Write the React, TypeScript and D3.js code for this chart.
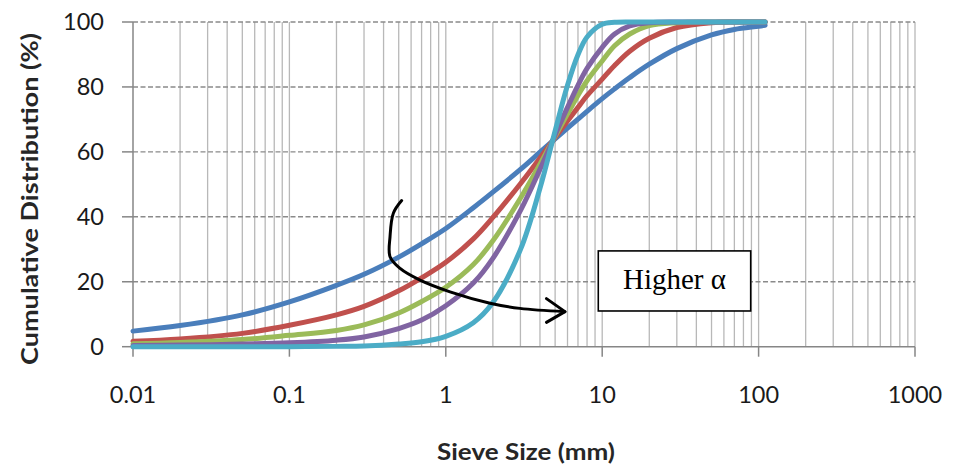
import React from "react";
import * as d3 from "d3";

// Sieve sizes (mm) at which the cumulative passing is tabulated
const sieveSizes = [0.01, 0.02, 0.05, 0.1, 0.2, 0.3, 0.5, 0.7, 1, 1.5, 2, 3, 4, 5, 6, 7, 8, 10, 12, 15, 20, 30, 50, 70, 100, 110];

// Cumulative distribution (%) for each curve, from lowest to highest alpha
const alpha1 = [4.8, 6.5, 9.8, 13.8, 18.9, 22.3, 27.6, 31.7, 36.4, 42.8, 47.6, 54.6, 59.9, 64.0, 67.3, 70.1, 72.5, 76.4, 79.4, 82.9, 87.0, 91.8, 96.0, 97.7, 98.7, 99.0];
const alpha2 = [1.7, 2.4, 4.1, 6.6, 9.8, 12.4, 17.2, 21.2, 26.0, 33.2, 39.8, 50.2, 58.1, 64.4, 69.5, 73.7, 77.3, 82.4, 86.6, 91.0, 95.0, 98.3, 99.8, 100, 100, 100];
const alpha3 = [0.9, 1.3, 2.2, 3.5, 5.0, 6.7, 10.4, 13.9, 18.3, 25.3, 32.6, 45.7, 56.2, 64.8, 71.7, 77.4, 81.9, 88.0, 92.7, 96.3, 98.9, 99.8, 100, 100, 100, 100];
const alpha4 = [0.4, 0.5, 0.8, 1.2, 2.0, 3.0, 5.6, 8.2, 12.6, 19.6, 27.2, 41.9, 54.6, 65.2, 73.7, 80.5, 85.7, 92.2, 96.3, 98.8, 99.8, 100, 100, 100, 100, 100];
const alpha5 = [0, 0, 0, 0, 0.1, 0.2, 0.8, 1.5, 3.2, 7.4, 13.6, 29.9, 48.8, 66.5, 80.5, 89.9, 95.4, 99.3, 99.9, 100, 100, 100, 100, 100, 100, 100];

const seriesValues = [alpha1, alpha2, alpha3, alpha4, alpha5];
const seriesColors = ["#4a7ebb", "#c0504d", "#9bbb59", "#8064a2", "#4bacc6"];

// Axis ticks and labels
const xTickValues = [0.01, 0.1, 1, 10, 100, 1000];
const xTickLabels = ["0.01", "0.1", "1", "10", "100", "1000"];
const yTickValues = [0, 20, 40, 60, 80, 100];
const yTickLabels = ["0", "20", "40", "60", "80", "100"];

// Annotation arrow, in (sieve size, %) coordinates
const arrowX = [0.522, 0.462, 0.44, 0.44, 0.51, 0.684, 1.064, 1.918, 2.98, 5.78];
const arrowY = [45.0, 41.1, 33.9, 27.7, 24.1, 20.5, 16.9, 13.4, 11.8, 10.8];
const arrowHeadX = [4.4, 5.78, 4.4];
const arrowHeadY = [14.8, 10.8, 7.5];

// Label box corners, in (sieve size, %) coordinates
const boxX = [9.44, 89];
const boxY = [29.5, 11.0];
const boxLabel = "Higher α";

const W = 953;
const H = 464;

export default function App() {
  const x = d3.scaleLog().domain([0.01, 1000]).range([133, 915]);
  const y = d3.scaleLinear().domain([0, 100]).range([346.7, 22]);

  const line = d3
    .line<number>()
    .x((_, i) => x(sieveSizes[i]))
    .y((d) => y(d))
    .curve(d3.curveCatmullRom.alpha(0.5));

  const arrowLine = d3
    .line<number>()
    .x((v) => x(v))
    .y((_, i) => y(arrowY[i]))
    .curve(d3.curveCatmullRom.alpha(0.5));

  const headLine = d3
    .line<number>()
    .x((v) => x(v))
    .y((_, i) => y(arrowHeadY[i]));

  const minorTicks = x.ticks().filter((t) => t > 0.01 * 1.0001);

  const sans = "Lato, 'Open Sans', sans-serif";

  const bx0 = x(boxX[0]);
  const bx1 = x(boxX[1]);
  const by0 = y(boxY[0]);
  const by1 = y(boxY[1]);

  return (
    <svg
      width={W}
      height={H}
      viewBox={`0 0 ${W} ${H}`}
      style={{ position: "absolute", left: 0, top: 0, background: "#fff" }}
    >
      <rect x={0} y={0} width={W} height={H} fill="#fff" />

      {/* vertical log grid */}
      {minorTicks.map((t, i) => (
        <line key={"vg" + i} x1={x(t)} x2={x(t)} y1={y(100)} y2={y(0)} stroke="#b8b8b8" strokeWidth={1.3} />
      ))}

      {/* horizontal dashed grid */}
      {yTickValues.filter((v) => v > 0).map((v) => (
        <line key={"hg" + v} x1={x(0.01)} x2={x(1000)} y1={y(v)} y2={y(v)} stroke="#8a8a8a" strokeWidth={1.4} strokeDasharray="5,2.5" />
      ))}

      {/* axes */}
      <line x1={x(0.01)} x2={x(0.01)} y1={y(100)} y2={y(0)} stroke="#868686" strokeWidth={1.5} />
      <line x1={x(0.01)} x2={x(1000)} y1={y(0)} y2={y(0)} stroke="#868686" strokeWidth={1.5} />
      {yTickValues.map((v) => (
        <line key={"yt" + v} x1={x(0.01) - 11} x2={x(0.01)} y1={y(v)} y2={y(v)} stroke="#868686" strokeWidth={1.5} />
      ))}
      {xTickValues.map((v) => (
        <line key={"xt" + v} x1={x(v)} x2={x(v)} y1={y(0)} y2={y(0) + 10} stroke="#868686" strokeWidth={1.5} />
      ))}

      {/* tick labels */}
      {yTickValues.map((v, i) => (
        <text key={"yl" + v} x={104} y={y(v)} dy="0.36em" textAnchor="end" fontFamily={sans} fontSize={23.5} fill="#1a1a1a">
          {yTickLabels[i]}
        </text>
      ))}
      {xTickValues.map((v, i) => (
        <text key={"xl" + v} x={x(v)} y={403} textAnchor="middle" fontFamily={sans} fontSize={23.5} fill="#1a1a1a">
          {xTickLabels[i]}
        </text>
      ))}

      {/* axis titles */}
      <text
        transform="translate(37.5,199) rotate(-90)"
        textAnchor="middle"
        fontFamily={sans}
        fontWeight="bold"
        fontSize={22}
        fill="#262626"
        textLength={332}
        lengthAdjust="spacingAndGlyphs"
      >
        Cumulative Distribution  (%)
      </text>
      <text
        x={526}
        y={459.5}
        textAnchor="middle"
        fontFamily={sans}
        fontWeight="bold"
        fontSize={22}
        fill="#262626"
        textLength={178}
        lengthAdjust="spacingAndGlyphs"
      >
        Sieve Size  (mm)
      </text>

      {/* distribution curves */}
      {seriesValues.map((vals, i) => (
        <path
          key={"s" + i}
          d={line(vals) || ""}
          fill="none"
          stroke={seriesColors[i]}
          strokeWidth={5}
          strokeLinecap="round"
          strokeLinejoin="round"
        />
      ))}

      {/* annotation arrow */}
      <path d={arrowLine(arrowX) || ""} fill="none" stroke="#000" strokeWidth={3} strokeLinecap="round" />
      <path d={headLine(arrowHeadX) || ""} fill="none" stroke="#000" strokeWidth={3} strokeLinecap="round" strokeLinejoin="round" />

      {/* annotation box */}
      <rect x={bx0} y={by0} width={bx1 - bx0} height={by1 - by0} fill="#fff" stroke="#000" strokeWidth={1.6} />
      <text
        x={(bx0 + bx1) / 2}
        y={288.5}
        textAnchor="middle"
        fontFamily="'Liberation Serif', 'DejaVu Serif', serif"
        fontSize={29}
        fill="#000"
      >
        {boxLabel}
      </text>
    </svg>
  );
}
